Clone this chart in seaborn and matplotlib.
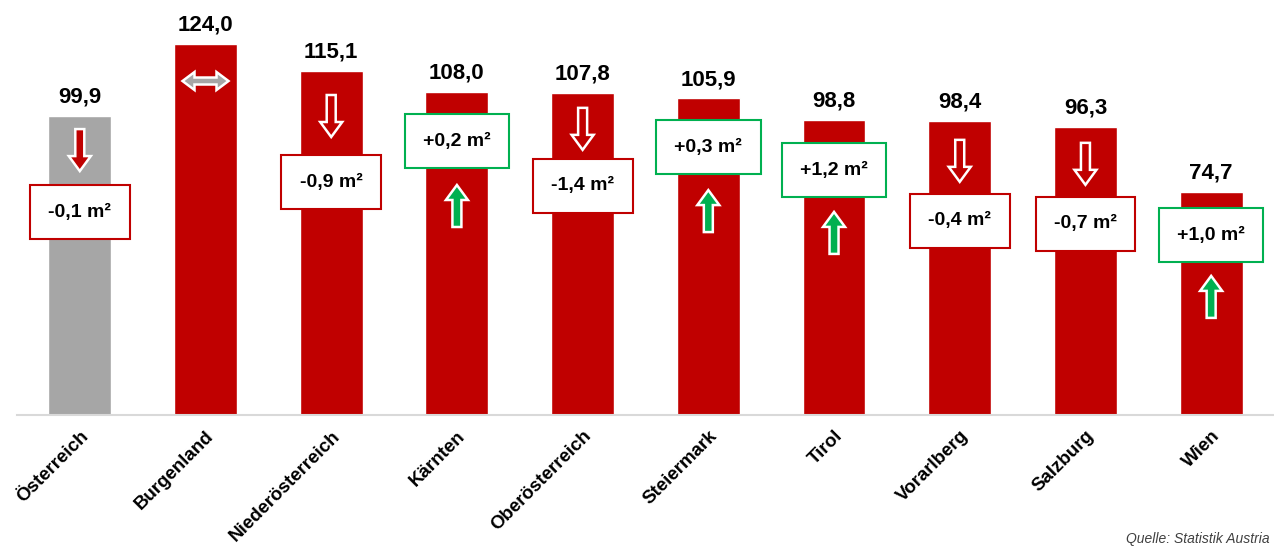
import matplotlib
matplotlib.use("Agg")
import matplotlib.pyplot as plt
import matplotlib.transforms as mtransforms
from matplotlib.patches import Polygon
import seaborn as sns

# data

regions = ["Österreich", "Burgenland", "Niederösterreich", "Kärnten", "Oberösterreich",
           "Steiermark", "Tirol", "Vorarlberg", "Salzburg", "Wien"]
area = [99.9, 124.0, 115.1, 108.0, 107.8, 105.9, 98.8, 98.4, 96.3, 74.7]
change = [-0.1, 0.0, -0.9, 0.2, -1.4, 0.3, 1.2, -0.4, -0.7, 1.0]

# layout: where the change boxes and arrows sit (data units)
box_y = [67.9, None, 77.9, 91.6, 76.6, 89.6, 81.9, 64.9, 63.9, 60.2]
arrow_y = [88.6, 111.7, 100.0, 69.9, 95.7, 68.2, 60.9, 85.0, 84.0, 39.5]

RED = "#C00000"
GREY = "#A6A6A6"
GREEN = "#00B050"

sns.set_style("white")
plt.rcParams["font.family"] = ["Liberation Sans", "DejaVu Sans"]
plt.rcParams["text.color"] = "black"
plt.rcParams["xtick.color"] = "black"

fig = plt.figure(figsize=(12.74, 5.48), dpi=100)
ax = fig.add_axes([0.0133, 1 - 415 / 548, 0.9867, 405 / 548])

colors = [GREY] + [RED] * (len(regions) - 1)
sns.barplot(x=regions, y=area, hue=regions, palette=colors, legend=False,
            width=0.5, saturation=1, ax=ax)

ax.set_ylim(0, 405 / 2.99)
ax.set_xlim(-0.5, len(regions) - 0.5)

# value labels above bars
for cont in ax.containers:
    vals = [f"{b.get_height():.1f}".replace(".", ",") for b in cont]
    ax.bar_label(cont, labels=vals, padding=6, fontsize=16, fontweight="bold",
                 color="black")

# spines / ticks
sns.despine(ax=ax, left=True)
ax.spines["bottom"].set_color("#D9D9D9")
ax.spines["bottom"].set_linewidth(1.5)
ax.set_yticks([])
ax.tick_params(axis="x", length=0, pad=9)
ax.set_xticks(range(len(regions)))
ax.set_xticklabels(regions, rotation=45, ha="right", rotation_mode="anchor",
                   fontsize=13.5, fontweight="bold", color="black")
ax.set_xlabel("")
ax.set_ylabel("")


def pix_trans(x, y):
    # vertices in pixels, anchored at a data point
    return (mtransforms.Affine2D().scale(1 / fig.dpi) + fig.dpi_scale_trans
            + mtransforms.ScaledTranslation(x, y, ax.transData))


def up_arrow(x, y, fc, up=True):
    s = 1 if up else -1
    pts = [(-4.5, -21), (4.5, -21), (4.5, 6), (11, 6), (0, 21), (-11, 6), (-4.5, 6)]
    pts = [(px, s * py) for px, py in pts]
    ax.add_patch(Polygon(pts, closed=True, fc=fc, ec="white", lw=1.8,
                         transform=pix_trans(x, y), zorder=4))


def double_arrow(x, y, fc):
    pts = [(-23, 0), (-11, 9), (-11, 3.5), (11, 3.5), (11, 9), (23, 0),
           (11, -9), (11, -3.5), (-11, -3.5), (-11, -9)]
    ax.add_patch(Polygon(pts, closed=True, fc=fc, ec="white", lw=1.8,
                         transform=pix_trans(x, y), zorder=4))


for i, (d, by, ay) in enumerate(zip(change, box_y, arrow_y)):
    if d == 0:
        double_arrow(i, ay, GREY)
        continue
    edge = GREEN if d > 0 else RED
    label = f"{d:+.1f}".replace(".", ",") + " m²"
    ax.text(i, by, label, ha="center", va="center", fontsize=14, fontweight="bold",
            color="black", zorder=5,
            bbox=dict(boxstyle="square,pad=0.95", fc="white", ec=edge, lw=1.5))
    if d > 0:
        up_arrow(i, ay, GREEN, up=True)
    else:
        up_arrow(i, ay, RED, up=False)

fig.text(1270 / 1274, 2 / 548, "Quelle: Statistik Austria", style="italic",
         fontsize=10, color="#404040", ha="right", va="bottom")

fig.savefig("out.png", dpi=100)
